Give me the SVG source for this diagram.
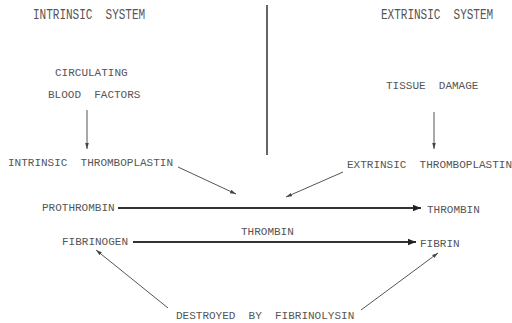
<svg xmlns="http://www.w3.org/2000/svg" width="512" height="323" viewBox="0 0 512 323">
<style>
text{font-family:"Liberation Mono","DejaVu Sans Mono",monospace;font-size:11px;fill:#555;white-space:pre}
.thin{stroke:#555;stroke-width:1;fill:none}
.thick{stroke:#333;stroke-width:2;fill:none}
</style>
<defs>
<marker id="a" viewBox="0 0 10 10" refX="10" refY="5" markerWidth="6" markerHeight="6" orient="auto" markerUnits="userSpaceOnUse"><path d="M0,2 L10,5 L0,8 Z" fill="#444"/></marker>
<marker id="b" viewBox="0 0 10 10" refX="10" refY="5" markerWidth="14" markerHeight="8" orient="auto" markerUnits="userSpaceOnUse"><path d="M0,1 L10,5 L0,9 Z" fill="#222"/></marker>
</defs>
<rect width="512" height="323" fill="#fff"/>
<g id="intrinsic-system"><text transform="translate(33,18.5) scale(1,1.4)">INTRINSIC  SYSTEM</text></g>
<g id="extrinsic-system"><text transform="translate(381,18.5) scale(1,1.4)">EXTRINSIC  SYSTEM</text></g>
<g id="circulating"><text x="55" y="76">CIRCULATING</text><text x="48" y="98">BLOOD  FACTORS</text></g>
<g id="tissue-damage"><text x="386" y="89">TISSUE  DAMAGE</text></g>
<g id="intrinsic-thromboplastin"><text x="8" y="166">INTRINSIC  THROMBOPLASTIN</text></g>
<g id="extrinsic-thromboplastin"><text x="347" y="168">EXTRINSIC  THROMBOPLASTIN</text></g>
<g id="prothrombin"><text x="42" y="211">PROTHROMBIN</text></g>
<g id="thrombin"><text x="427" y="213">THROMBIN</text></g>
<g id="thrombin-label"><text x="241" y="235">THROMBIN</text></g>
<g id="fibrinogen"><text x="62" y="245">FIBRINOGEN</text></g>
<g id="fibrin"><text x="420" y="247">FIBRIN</text></g>
<g id="destroyed"><text x="176" y="319">DESTROYED  BY  FIBRINOLYSIN</text></g>
<g id="connectors">
<line x1="267" y1="5" x2="267" y2="155" stroke="#333" stroke-width="1.5"/>
<line class="thin" x1="87" y1="110" x2="87" y2="149" marker-end="url(#a)"/>
<line class="thin" x1="434" y1="112" x2="434" y2="149" marker-end="url(#a)"/>
<line class="thin" x1="178" y1="167" x2="236" y2="194" marker-end="url(#a)"/>
<line class="thin" x1="343" y1="172" x2="286" y2="197" marker-end="url(#a)"/>
<line class="thick" x1="118" y1="208" x2="421" y2="208" marker-end="url(#b)"/>
<line class="thick" x1="133" y1="242" x2="416" y2="242" marker-end="url(#b)"/>
<line class="thin" x1="168" y1="308" x2="96" y2="250" marker-end="url(#a)"/>
<line class="thin" x1="361" y1="310" x2="438" y2="253" marker-end="url(#a)"/>
</g>
</svg>
